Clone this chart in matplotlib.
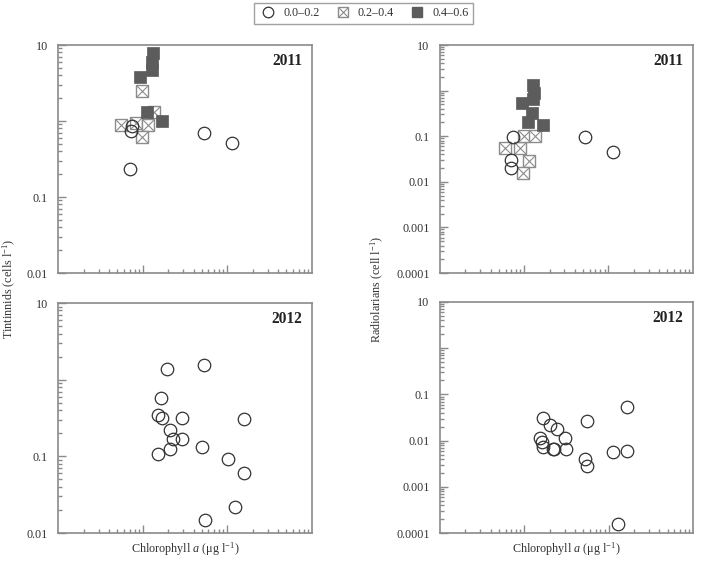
import matplotlib
matplotlib.use("Agg")
import matplotlib.pyplot as plt
from matplotlib.ticker import FixedLocator, NullFormatter, LogLocator, FixedFormatter
from matplotlib.lines import Line2D
from matplotlib.legend_handler import HandlerTuple

plt.rcParams['font.family'] = ['Liberation Serif', 'DejaVu Serif']
plt.rcParams['mathtext.fontset'] = 'custom'
plt.rcParams['mathtext.rm'] = 'Liberation Serif'
plt.rcParams['mathtext.it'] = 'Liberation Serif:italic'

# ---------------- data ----------------
categories = ["0.0–0.2", "0.2–0.4", "0.4–0.6"]

# Tintinnids 2011
tin11_low_x = [0.72, 0.75, 0.71, 5.3, 11.5]
tin11_low_y = [0.745, 0.867, 0.231, 0.69, 0.51]
tin11_mid_x = [0.97, 0.56, 0.83, 1.14, 1.36, 0.97]
tin11_mid_y = [2.48, 0.886, 0.93, 0.886, 1.30, 0.62]
tin11_high_x = [1.33, 1.27, 1.27, 0.93, 1.11, 1.67]
tin11_high_y = [7.78, 6.03, 4.69, 3.83, 1.33, 1.0]

# Radiolarians 2011
rad11_low_x = [0.74, 0.70, 0.70, 5.27, 11.4]
rad11_low_y = [0.0946, 0.030, 0.0204, 0.098, 0.0457]
rad11_mid_x = [0.59, 0.89, 0.995, 1.34, 1.14, 0.96]
rad11_mid_y = [0.056, 0.056, 0.1026, 0.1026, 0.0286, 0.0158]
rad11_high_x = [1.26, 1.31, 1.28, 0.93, 1.23, 1.10, 1.66]
rad11_high_y = [1.33, 0.886, 0.655, 0.548, 0.315, 0.20, 0.175]

# Tintinnids 2012
tin12_x = [1.92, 5.30, 1.64, 1.50, 1.67, 2.91, 15.9, 2.10, 2.30, 2.91,
           4.98, 2.10, 1.53, 10.3, 15.9, 12.4, 5.40]
tin12_y = [1.38, 1.55, 0.58, 0.347, 0.314, 0.314, 0.305, 0.221, 0.167, 0.167,
           0.133, 0.124, 0.106, 0.0925, 0.060, 0.0221, 0.0148]

# Radiolarians 2012
rad12_x = [1.68, 2.02, 2.42, 1.54, 1.61, 3.04, 1.68, 2.17, 2.27, 3.12,
           5.50, 5.25, 5.50, 11.2, 16.4, 16.4, 13.0]
rad12_y = [0.0313, 0.0218, 0.0178, 0.01156, 0.00946, 0.01156, 0.00738, 0.00658, 0.00658, 0.00658,
           0.0266, 0.0040, 0.00286, 0.00558, 0.0060, 0.0526, 0.000159]

years = ["2011", "2012"]
xlabel_txt = "Chlorophyll $\\mathit{a}$ (μg l$^{-1}$)"
ylabel_tin = "Tintinnids (cells l$^{-1}$)"
ylabel_rad = "Radiolarians (cell l$^{-1}$)"
tin_ticks = [0.01, 0.1, 1, 10]
tin_labels = ["0.01", "0.1", "", "10"]
rad_ticks = [0.0001, 0.001, 0.01, 0.1, 1, 10]
rad_labels = ["0.0001", "0.001", "0.01", "0.1", "", "10"]

# ---------------- style ----------------
SPINE = "#8a8a8a"
CIRC = "#333333"
XSQ = "#8c8c8c"
FSQ = "#5c5c5c"
MS_C = 9.0
MS_S = 8.4

fig = plt.figure(figsize=(7.01, 5.62), dpi=100)

W, H = 701, 562
def pos(l, r, t, b):
    return [l / W, 1 - b / H, (r - l) / W, (b - t) / H]

ax_tl = fig.add_axes(pos(58.3, 311.7, 45, 273))
ax_tr = fig.add_axes(pos(440, 692.7, 45, 273))
ax_bl = fig.add_axes(pos(58.3, 311.7, 303, 533))
ax_br = fig.add_axes(pos(440, 693, 302, 533))


def style_axis(ax, ylim, ticks, labels, year):
    ax.set_xscale('log')
    ax.set_yscale('log')
    ax.set_xlim(0.1, 100)
    ax.set_ylim(*ylim)
    for s in ax.spines.values():
        s.set_color(SPINE)
        s.set_linewidth(1.2)
    ax.xaxis.set_major_locator(FixedLocator([1, 10]))
    ax.xaxis.set_minor_locator(LogLocator(base=10, subs=range(2, 10)))
    ax.xaxis.set_major_formatter(NullFormatter())
    ax.xaxis.set_minor_formatter(NullFormatter())
    ax.yaxis.set_major_locator(FixedLocator(ticks))
    ax.yaxis.set_major_formatter(FixedFormatter(labels))
    ax.yaxis.set_minor_locator(LogLocator(base=10, subs=range(2, 10)))
    ax.yaxis.set_minor_formatter(NullFormatter())
    ax.tick_params(which='both', direction='in', color=SPINE, width=1.0,
                   top=False, right=False)
    ax.tick_params(which='major', length=5.5, labelsize=8.7, labelcolor='#333333', pad=7.5)
    ax.tick_params(which='minor', length=3)
    ax.text(0.962, 0.93, year, transform=ax.transAxes, ha='right', va='center',
            fontsize=11.2, fontweight='bold', color='#222222')


def circles(ax, x, y):
    return ax.plot(x, y, linestyle='none', marker='o', ms=MS_C, mfc='none',
                   mec=CIRC, mew=0.9, zorder=5)[0]


def crossed(ax, x, y):
    a = ax.plot(x, y, linestyle='none', marker='s', ms=MS_S, mfc='white',
                mec=XSQ, mew=1.0, zorder=3)[0]
    b = ax.plot(x, y, linestyle='none', marker='x', ms=MS_S, mec=XSQ,
                mew=0.8, zorder=3)[0]
    return a, b


def filled(ax, x, y):
    return ax.plot(x, y, linestyle='none', marker='s', ms=MS_S, mfc=FSQ,
                   mec=FSQ, mew=0.5, zorder=4)[0]


style_axis(ax_tl, (0.01, 10), tin_ticks, tin_labels, years[0])
style_axis(ax_bl, (0.01, 10), tin_ticks, tin_labels, years[1])
style_axis(ax_tr, (0.0001, 10), rad_ticks, rad_labels, years[0])
style_axis(ax_br, (0.0001, 10), rad_ticks, rad_labels, years[1])

crossed(ax_tl, tin11_mid_x, tin11_mid_y)
filled(ax_tl, tin11_high_x, tin11_high_y)
circles(ax_tl, tin11_low_x, tin11_low_y)

crossed(ax_tr, rad11_mid_x, rad11_mid_y)
filled(ax_tr, rad11_high_x, rad11_high_y)
circles(ax_tr, rad11_low_x, rad11_low_y)

circles(ax_bl, tin12_x, tin12_y)
circles(ax_br, rad12_x, rad12_y)

# axis labels
for cx in (185, 566):
    fig.text(cx / W, 1 - 549 / H, xlabel_txt, ha='center', va='center',
             fontsize=8.7, color='#333333')

fig.text(9 / W, 1 - 289 / H, ylabel_tin, rotation=90, ha='center', va='center',
         fontsize=8.7, color='#333333')
fig.text(377 / W, 1 - 289 / H, ylabel_rad, rotation=90, ha='center', va='center',
         fontsize=8.7, color='#333333')

# legend
h_c = Line2D([], [], linestyle='none', marker='o', ms=7.6, mfc='none', mec=CIRC, mew=0.9)
h_x1 = Line2D([], [], linestyle='none', marker='s', ms=7.3, mfc='white', mec=XSQ, mew=1.0)
h_x2 = Line2D([], [], linestyle='none', marker='x', ms=7.3, mec=XSQ, mew=0.8)
h_f = Line2D([], [], linestyle='none', marker='s', ms=7.3, mfc=FSQ, mec=FSQ)
leg = fig.legend([h_c, (h_x1, h_x2), h_f], categories, ncol=3,
                 loc='center', bbox_to_anchor=(363.5 / W, 1 - 13.5 / H),
                 handler_map={tuple: HandlerTuple(ndivide=1, pad=0)},
                 fontsize=8.7, frameon=True, fancybox=False, handlelength=1.6,
                 handletextpad=0.45, columnspacing=1.1, borderpad=0.4,
                 borderaxespad=0)
leg.get_frame().set_edgecolor(SPINE)
leg.get_frame().set_linewidth(1.0)
for t in leg.get_texts():
    t.set_color('#333333')

fig.savefig("out.png", dpi=100)
